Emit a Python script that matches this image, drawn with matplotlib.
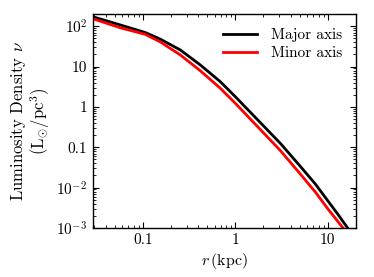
import numpy as np
import matplotlib
matplotlib.use("Agg")
import matplotlib.pyplot as plt
from matplotlib.ticker import FixedLocator, FixedFormatter, LogLocator, NullFormatter

plt.rcParams['font.family'] = 'serif'
plt.rcParams['font.serif'] = ['cmr10', 'DejaVu Serif']
plt.rcParams['mathtext.fontset'] = 'cm'
plt.rcParams['axes.unicode_minus'] = False
plt.rcParams['axes.formatter.use_mathtext'] = True

# Data
r_major = [0.0299, 0.0571, 0.1064, 0.1546, 0.2543, 0.4186, 0.688, 1.0, 3.065, 5.04, 7.33, 10.05, 12.67, 16.37, 18.4]
nu_major = [168.0, 108.0, 70.0, 48.0, 25.9, 11.0, 4.24, 1.80, 0.1257, 0.0338, 0.01228, 0.00465, 0.00228, 0.0010, 0.00068]

r_minor = [0.0299, 0.0571, 0.1064, 0.1546, 0.2543, 0.4186, 0.688, 1.0, 3.065, 5.04, 7.33, 10.05, 14.6, 16.7]
nu_minor = [150.0, 92.0, 63.0, 41.0, 19.5, 7.9, 2.91, 1.236, 0.0833, 0.0218, 0.00778, 0.00294, 0.0010, 0.00067]

xticks = [0.1, 1, 10]
xticklabels = ['0.1', '1', '10']
yticks = [1e-3, 1e-2, 1e-1, 1, 10, 100]
yticklabels = [r'$10^{-3}$', r'$10^{-2}$', '0.1', '1', '10', r'$10^{2}$']

fig = plt.figure(figsize=(3.74, 2.77), dpi=100)
ax = fig.add_axes([0.2487, 0.177, 0.7023, 0.772])

ax.plot(r_major, nu_major, color='black', lw=2, label='Major axis')
ax.plot(r_minor, nu_minor, color='red', lw=2, label='Minor axis')

ax.set_xscale('log')
ax.set_yscale('log')
ax.set_xlim(0.029, 20)
ax.set_ylim(1e-3, 200)

ax.xaxis.set_major_locator(FixedLocator(xticks))
ax.xaxis.set_major_formatter(FixedFormatter(xticklabels))
ax.yaxis.set_major_locator(FixedLocator(yticks))
ax.yaxis.set_major_formatter(FixedFormatter(yticklabels))
ax.xaxis.set_minor_locator(LogLocator(base=10, subs=np.arange(2, 10)))
ax.yaxis.set_minor_locator(LogLocator(base=10, subs=np.arange(2, 10)))
ax.xaxis.set_minor_formatter(NullFormatter())
ax.yaxis.set_minor_formatter(NullFormatter())

ax.tick_params(which='both', direction='in', top=True, right=True, labelsize=11)
ax.tick_params(which='major', length=4, width=0.8, pad=4)
ax.tick_params(which='minor', length=2, width=0.6)
for s in ax.spines.values():
    s.set_linewidth(1.0)

ax.set_xlabel(r'$r\,(\mathrm{kpc})$', fontsize=11.5, labelpad=3)
ax.set_ylabel('Luminosity Density $\\nu$\n$(\\mathrm{L}_{\\odot}/\\mathrm{pc}^{3})$', fontsize=12, linespacing=1.0, labelpad=3)

ax.legend(loc='upper right', frameon=False, fontsize=11, handlelength=2.2, borderaxespad=0.5, handletextpad=0.9, labelspacing=0.3)

fig.savefig('out.png', dpi=100)
